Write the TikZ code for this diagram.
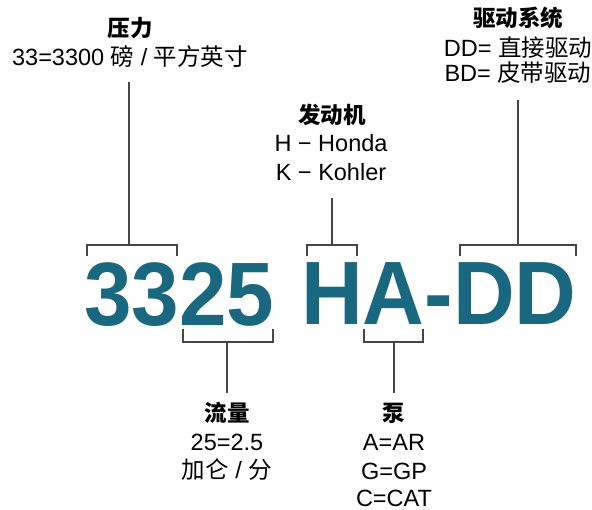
\documentclass[tikz,border=0pt]{standalone}
\usepackage{fontspec}
\setmainfont{Liberation Sans}
\newfontfamily\cjk{Noto Sans CJK SC}
\newfontfamily\cjkb{Noto Sans CJK SC Black}
\definecolor{teal1}{RGB}{26,104,128}
\definecolor{line1}{RGB}{70,70,70}
\newcommand{\mns}{\symbol{"2212}}
\begin{document}
\begin{tikzpicture}[x=1pt,y=-1pt,
  lbl/.style={inner sep=0pt,font=\fontsize{23.5}{23.5}\selectfont},
  head/.style={inner sep=0pt,font=\fontsize{22.5}{22.5}\cjkb},
  big/.style={inner sep=0pt,anchor=base west,text=teal1,
    font=\fontsize{90}{90}\selectfont\bfseries,xscale=0.95},
  brk/.style={draw=line1,line width=1.6pt}]
\useasboundingbox (0,0) rectangle (592,510);
% big code
\node[big] (code1) at (84,326) {3325};
\node[big] (code2) at (301,325) {HA-DD};
% pressure
\node[head] (hP) at (130,28) {压力};
\node[lbl] (tP) at (130,57) {33=3300 {\cjk 磅} / {\cjk 平方英寸}};
% drive
\node[head] (hD) at (518,18) {驱动系统};
\node[lbl] (tD1) at (518,48) {DD= {\cjk 直接驱动}};
\node[lbl] (tD2) at (518,73) {BD= {\cjk 皮带驱动}};
% engine
\node[head] (hE) at (332,115) {发动机};
\node[lbl] (tE1) at (331,143) {H \mns{} Honda};
\node[lbl] (tE2) at (331,172) {K \mns{} Kohler};
% flow
\node[head] (hF) at (227,413) {流量};
\node[lbl] (tF1) at (227,442) {25=2.5};
\node[lbl] (tF2) at (227,470) {{\cjk 加仑} / {\cjk 分}};
% pump
\node[head] (hU) at (394,413) {泵};
\node[lbl] (tU1) at (394,442) {A=AR};
\node[lbl] (tU2) at (394,471) {G=GP};
\node[lbl] (tU3) at (394,498) {C=CAT};
% coordinates
\coordinate (pT) at (129,82);  \coordinate (pM) at (129,245);
\coordinate (eT) at (332,198); \coordinate (eM) at (332,245);
\coordinate (dT) at (518,100); \coordinate (dM) at (518,245);
\coordinate (fT) at (227,393); \coordinate (fM) at (227,342);
\coordinate (uT) at (394,393); \coordinate (uM) at (394,342);
% top brackets
\draw[brk] (pT) -- (pM);
\draw[brk] (87,256) -- (87,245) -- (177,245) -- (177,256);
\draw[brk] (eT) -- (eM);
\draw[brk] (307,256) -- (307,245) -- (357,245) -- (357,256);
\draw[brk] (dT) -- (dM);
\draw[brk] (460,256) -- (460,245) -- (576,245) -- (576,256);
% bottom brackets
\draw[brk] (fT) -- (fM);
\draw[brk] (183,329) -- (183,342) -- (273,342) -- (273,329);
\draw[brk] (uT) -- (uM);
\draw[brk] (364,329) -- (364,342) -- (423,342) -- (423,329);
\end{tikzpicture}
\end{document}
